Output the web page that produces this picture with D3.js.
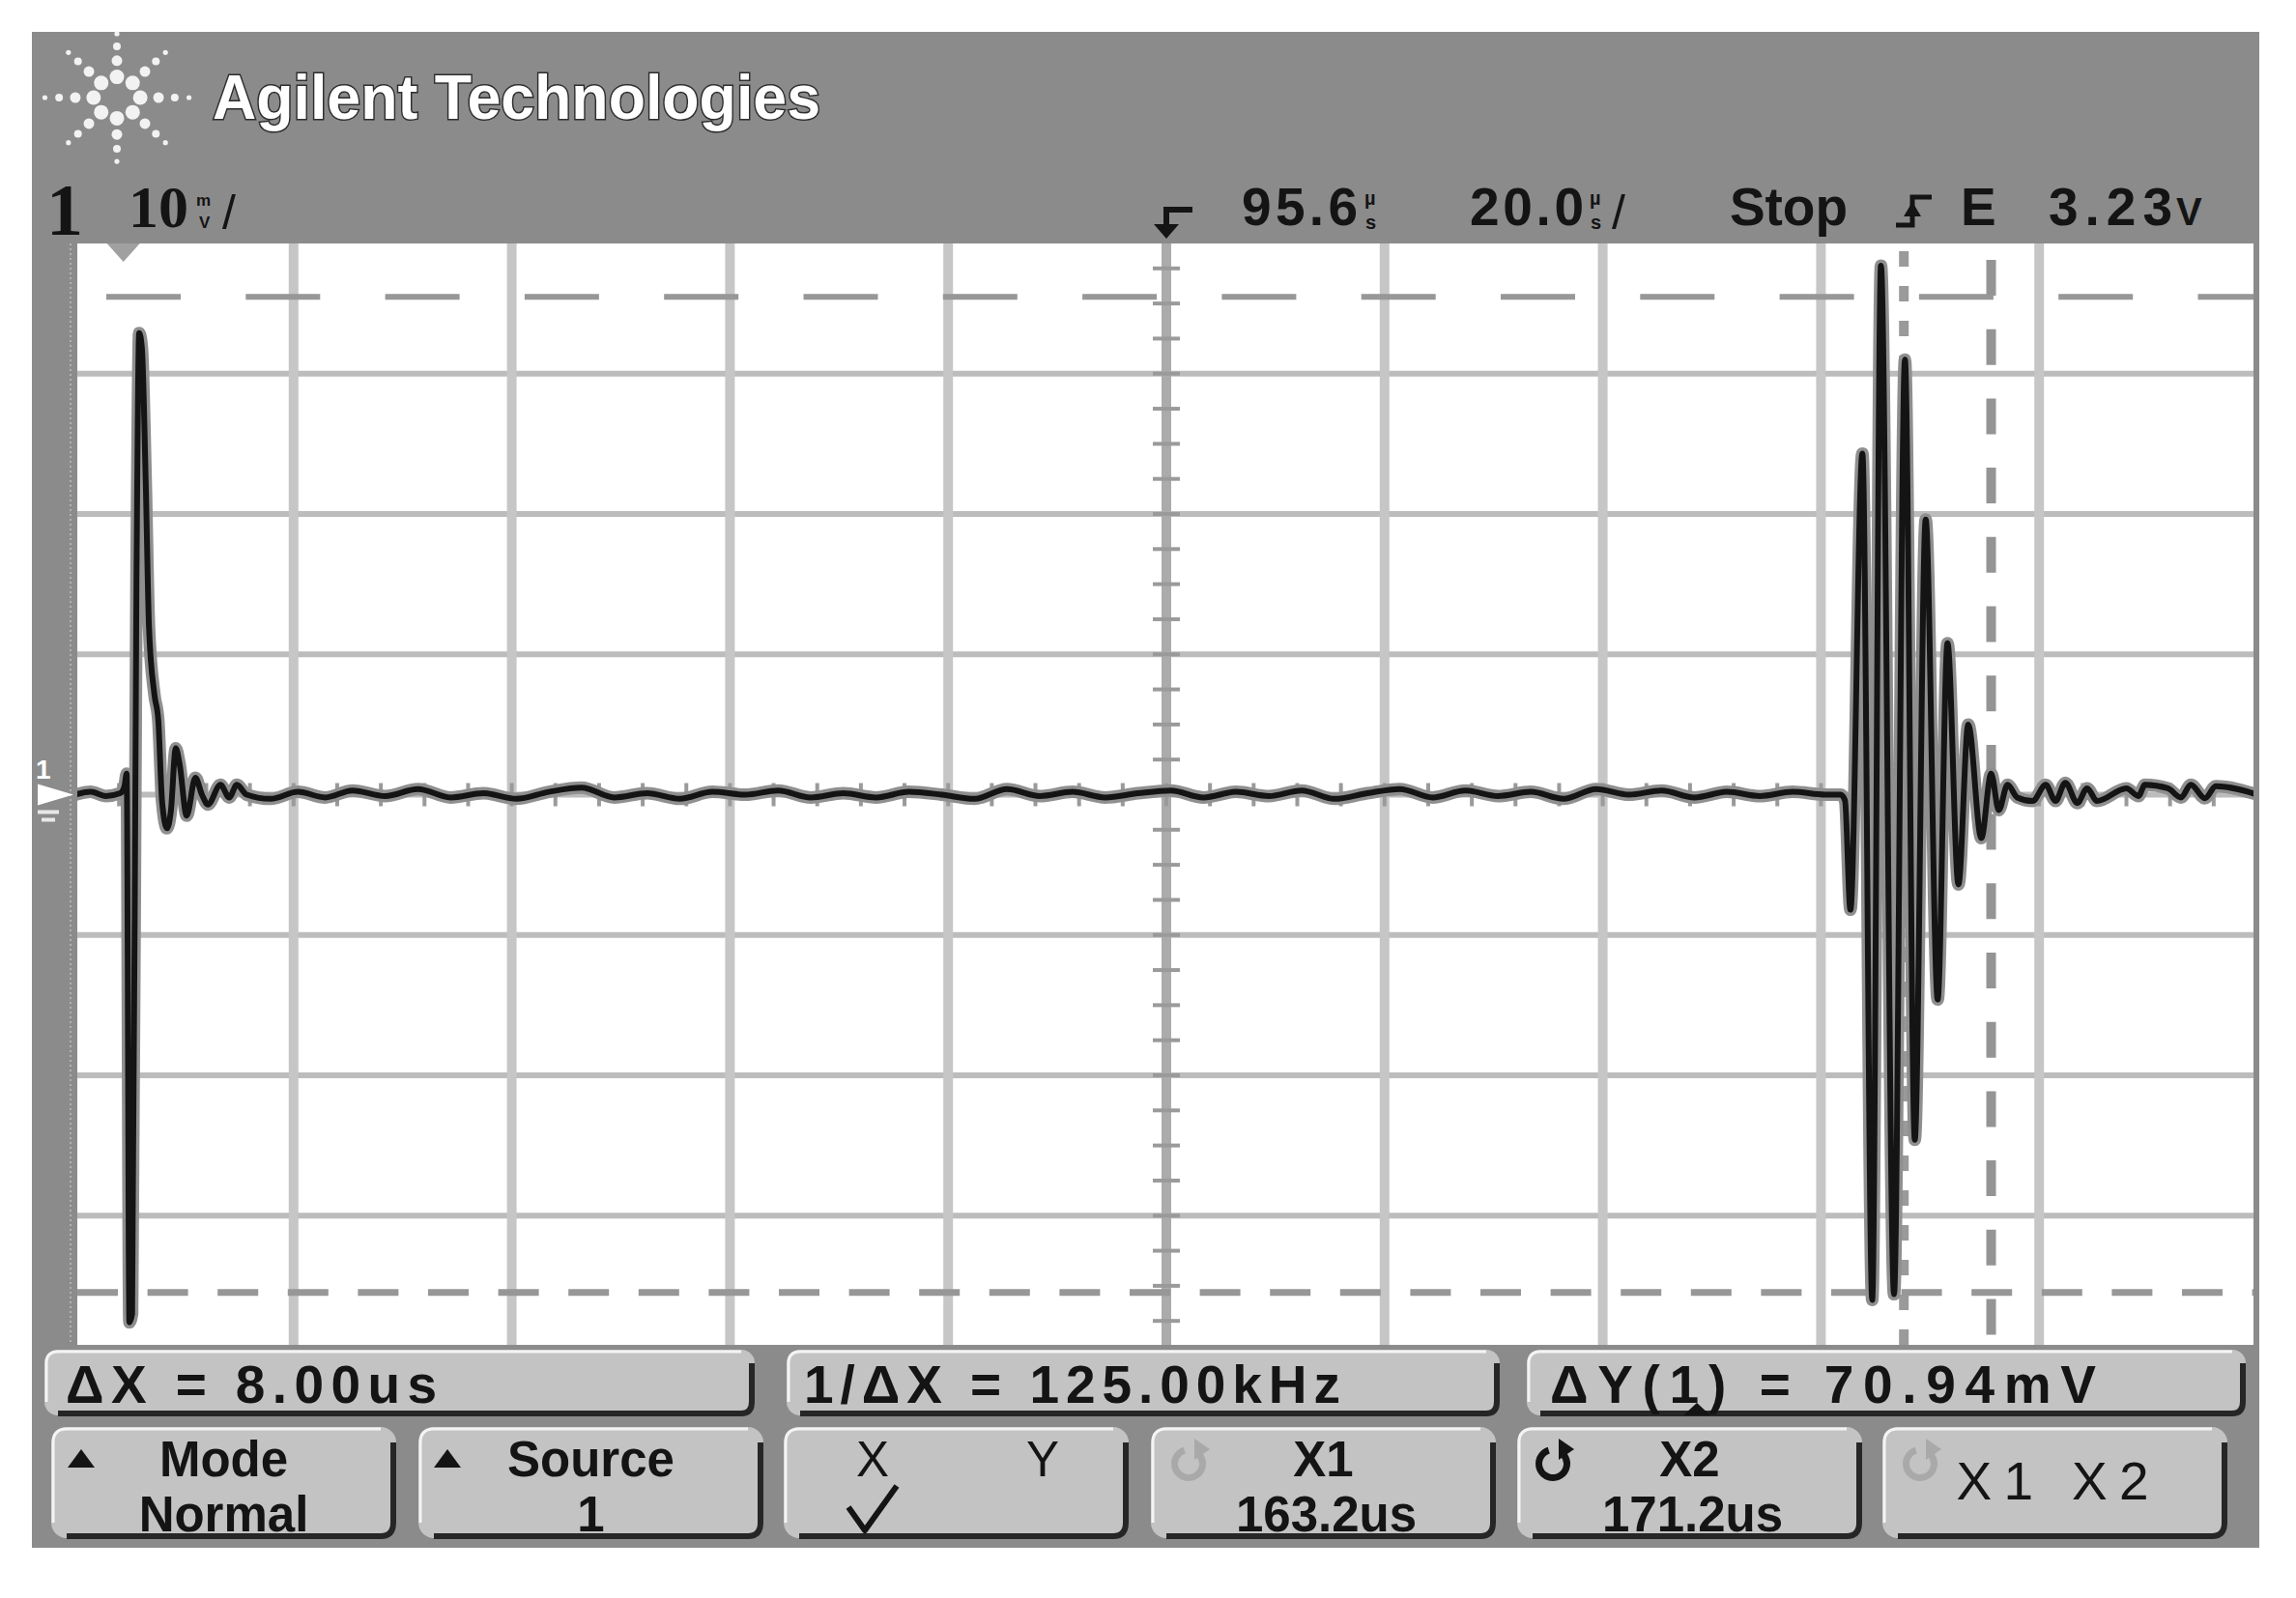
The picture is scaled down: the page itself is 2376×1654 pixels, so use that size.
<!DOCTYPE html>
<html>
<head>
<meta charset="utf-8">
<title>Agilent scope capture</title>
<script src="https://cdn.jsdelivr.net/npm/d3@7/dist/d3.min.js"></script>
<style>
html,body{margin:0;padding:0;background:#ffffff;overflow:hidden;}
svg{display:block;}
</style>
</head>
<body>
<svg id="scope" width="2376" height="1654"></svg>
<script>
// ---------- scope settings ----------
const timePerDivUs = 20.0;
const delayUs = 95.6;
const voltsPerDivMv = 10;

// ---------- channel 1 trace (time in us, value in mV) ----------
const traceTimeUs = [
  -4.4, -3.0, -1.6, -0.3, 0.1, 0.3, 0.55, 0.8, 1.2, 1.45, 1.7, 2.05, 2.35, 2.85, 3.2, 3.55, 4.0, 4.35,
  4.8, 5.15, 5.8, 6.6, 7.2, 7.75, 8.9, 9.7, 10.4, 11.3,
  13.5, 16, 18.5, 21, 24, 27, 30, 33, 36, 39, 42, 45, 48, 51, 54, 57, 60, 63, 66, 69, 72, 75, 78, 81,
  84, 87, 90, 93, 96, 99, 102, 105, 108, 111, 114, 117, 120, 123, 126, 129, 132, 135, 138, 141, 144,
  147, 150, 153, 156, 157.4, 157.8, 158.3, 159.4, 160.3, 161.1, 162.3, 163.3, 164.2, 165.2, 166.3,
  167.2, 168.2, 169.1, 170.3, 171.2, 171.9, 172.7, 173.6, 175.0, 176.2, 177.1, 178.0, 179.1, 180.0,
  180.9, 183.6, 184.7, 185.3, 187.4, 188.6, 189.5, 190.8, 191.8, 195.6
];
const traceMv = [
  0, 0.2, -0.1, 0.1, 0.6, 1.5, -37.6, -37.0, 15.3, 32.9, 31.8, 22.2, 11.9, 7.1, 5.3, -0.5, -2.4, -1.2,
  3.3, 2.2, -1.5, 1.2, 0, -0.7, 0.7, -0.2, 0.7, 0,
  -0.3, 0.2, -0.2, 0.3, -0.1, 0.4, -0.2, 0.1, -0.3, 0.2, 0.5, -0.2, 0.1, -0.3, 0.2, 0, 0.3, -0.2, 0.1, -0.2, 0.2, 0, -0.3, 0.4,
  -0.1, 0.2, -0.2, 0.1, 0.3, -0.2, 0.2, -0.1, 0.3, -0.3, 0.1, 0.4, -0.2, 0.3, -0.1, 0.2, -0.3, 0.4, 0, 0.3, -0.2,
  0.2, -0.1, 0.2, 0, 0, -0.4, -8.2, 24.3, -36.0, 37.7, -35.6, 31.0, -24.6, 19.6, -14.6,
  10.8, -6.4, 5.0, -3.1, 1.5, -1.1, 0.7, -0.2, -0.45, 0.7, -0.45, 0.85, -0.6, 0.45,
  -0.45, 0.45, -0.1, 0.7, 0.45, -0.2, 0.7, -0.25, 0.6, 0
];

// ---------- cursors ----------
const cursorXUs = [163.2, 171.2];
const cursorYMv = [35.47, -35.47];

// ---------- labels ----------
const brandLabel = "Agilent Technologies";
const statusLabels = ["ΔX = 8.00us", "1/ΔX = 125.00kHz", "ΔY(1) = 70.94mV"];
const softkeyTop = ["Mode", "Source", "", "X1", "X2", ""];
const softkeyBottom = ["Normal", "1", "", "163.2us", "171.2us", ""];
const headerDelay = "95.6";
const headerTimebase = "20.0";
const headerRun = "Stop";
const headerTrigLevel = "3.23";
const headerChannel = "1";
const headerScale = "10";

// ---------- layout ----------
const W = 2376, H = 1654;
const panel = {x0: 33, y0: 33, x1: 2338, y1: 1602};
const plot = {x0: 80, y0: 252, x1: 2332, y1: 1392};
const tStart = delayUs - 5 * timePerDivUs, tEnd = delayUs + 5 * timePerDivUs;

const x = d3.scaleLinear().domain([tStart, tEnd]).range([78, 2336]);
const y = d3.scaleLinear().domain([-4 * voltsPerDivMv, 4 * voltsPerDivMv]).range([1403.5, 241.5]);

const svg = d3.select("#scope");
const SANS = "'Liberation Sans', Arial, sans-serif";
const SERIF = "'Liberation Serif', 'Times New Roman', serif";
const INK = "#141414";

svg.append("rect").attr("width", W).attr("height", H).attr("fill", "#ffffff");
svg.append("rect").attr("x", panel.x0).attr("y", panel.y0)
  .attr("width", panel.x1 - panel.x0).attr("height", panel.y1 - panel.y0).attr("fill", "#8b8b8b");

function text(g, s, px, py, opt) {
  const t = g.append("text").attr("x", px).attr("y", py).text(s)
    .attr("font-family", opt.family || SANS)
    .attr("font-size", opt.size || 55)
    .attr("font-weight", opt.weight || "bold")
    .attr("fill", opt.fill || INK)
    .attr("text-anchor", opt.anchor || "start");
  if (opt.len) t.attr("textLength", opt.len).attr("lengthAdjust", opt.adjust || "spacing");
  return t;
}

// ---------- brand row ----------
const head = svg.append("g");
const logoC = [121, 101];
const rayDist = [23, 41, 57, 71];
const rayRad = [7.5, 5.5, 4, 2.6];
for (let k = 0; k < 8; k++) {
  const a = k * Math.PI / 4;
  const sx = (k % 4 === 0) ? 1.05 : 1.0;
  rayDist.forEach((d, i) => {
    head.append("circle")
      .attr("cx", logoC[0] + Math.cos(a) * d * sx)
      .attr("cy", logoC[1] + Math.sin(a) * d * 0.93)
      .attr("r", rayRad[i]).attr("fill", "#f2f2f2");
  });
}
text(head, brandLabel, 220, 123, {size: 64, fill: "#ffffff", len: 629, adjust: "spacingAndGlyphs"})
  .attr("stroke", "#2e2e2e").attr("stroke-width", 3).attr("paint-order", "stroke");

// ---------- settings row ----------
text(head, headerChannel, 48, 243, {family: SERIF, size: 76});
text(head, headerScale, 133, 235, {family: SERIF, size: 62});
text(head, "m", 203, 213, {size: 17});
text(head, "V", 206, 236, {size: 17});
text(head, "/", 230, 237, {size: 50, weight: "normal"});

// trigger reference marker (top centre)
head.append("path").attr("d", "M1234,217 H1207 V236").attr("fill", "none")
  .attr("stroke", INK).attr("stroke-width", 6);
head.append("path").attr("d", "M1194,232 L1220,232 L1207,247 Z").attr("fill", INK);

text(head, headerDelay, 1285, 233, {size: 55, len: 120});
text(head, "µ", 1412, 212, {size: 20});
text(head, "s", 1413, 237, {size: 20});
text(head, headerTimebase, 1521, 233, {size: 55, len: 118});
text(head, "µ", 1645, 212, {size: 20});
text(head, "s", 1646, 237, {size: 20});
text(head, "/", 1668, 237, {size: 50, weight: "normal"});
text(head, headerRun, 1790, 233, {size: 55, len: 122});
// rising edge trigger symbol
head.append("path").attr("d", "M1962,233 H1979 V204 H1999").attr("fill", "none")
  .attr("stroke", INK).attr("stroke-width", 5);
head.append("path").attr("d", "M1970,224 L1988,224 L1979,209 Z").attr("fill", INK);
text(head, "E", 2029, 233, {size: 55});
text(head, headerTrigLevel, 2120, 233, {size: 55, len: 128});
text(head, "V", 2252, 233, {size: 40});

// ---------- graticule ----------
const grid = svg.append("g");
grid.append("line").attr("x1", 73).attr("x2", 73).attr("y1", plot.y0).attr("y2", plot.y1)
  .attr("stroke", "#b0b0b0").attr("stroke-width", 2).attr("stroke-dasharray", "2,3");
grid.append("rect").attr("x", plot.x0).attr("y", plot.y0)
  .attr("width", plot.x1 - plot.x0).attr("height", plot.y1 - plot.y0).attr("fill", "#ffffff");

const clip = svg.append("defs").append("clipPath").attr("id", "plotclip");
clip.append("rect").attr("x", plot.x0).attr("y", plot.y0)
  .attr("width", plot.x1 - plot.x0).attr("height", plot.y1 - plot.y0);

const gridG = svg.append("g").attr("clip-path", "url(#plotclip)");
const vLines = d3.range(1, 10).map(i => tStart + i * timePerDivUs);
const hLines = d3.range(-3, 4).map(i => i * voltsPerDivMv);

gridG.selectAll(".hl").data(hLines).join("line")
  .attr("x1", plot.x0).attr("x2", plot.x1)
  .attr("y1", d => y(d)).attr("y2", d => y(d))
  .attr("stroke", "#bcbcbc").attr("stroke-width", 6);
gridG.selectAll(".vl").data(vLines).join("line")
  .attr("y1", plot.y0).attr("y2", plot.y1)
  .attr("x1", d => x(d)).attr("x2", d => x(d))
  .attr("stroke", d => Math.abs(d - delayUs) < 1e-6 ? "#ababab" : "#c6c6c6")
  .attr("stroke-width", 10);

// minor ticks on centre axes
const vMinor = d3.range(-15, 16).map(i => i * voltsPerDivMv / 4).filter(v => Math.abs(v) > 1e-6 && Math.abs(v) < 39);
gridG.selectAll(".vm").data(vMinor).join("line")
  .attr("x1", x(delayUs) - 14).attr("x2", x(delayUs) + 14)
  .attr("y1", d => y(d)).attr("y2", d => y(d))
  .attr("stroke", "#9a9a9a").attr("stroke-width", 4);
const tMinor = d3.range(1, 50).map(i => tStart + i * timePerDivUs / 5);
gridG.selectAll(".tm").data(tMinor).join("line")
  .attr("y1", y(0) - 12).attr("y2", y(0) + 12)
  .attr("x1", d => x(d)).attr("x2", d => x(d))
  .attr("stroke", "#9a9a9a").attr("stroke-width", 4);

// trigger point marker (t = 0)
gridG.append("path")
  .attr("d", `M${x(0) - 17},${plot.y0} L${x(0) + 17},${plot.y0} L${x(0)},${plot.y0 + 19} Z`)
  .attr("fill", "#a0a0a0");

// ---------- cursors ----------
const curG = svg.append("g").attr("clip-path", "url(#plotclip)");
curG.append("line").attr("x1", 110).attr("x2", plot.x1)
  .attr("y1", y(cursorYMv[0])).attr("y2", y(cursorYMv[0]))
  .attr("stroke", "#979797").attr("stroke-width", 6).attr("stroke-dasharray", "77,67.3");
curG.append("line").attr("x1", 80).attr("x2", plot.x1)
  .attr("y1", y(cursorYMv[1])).attr("y2", y(cursorYMv[1]))
  .attr("stroke", "#979797").attr("stroke-width", 7).attr("stroke-dasharray", "42,30.6");
curG.append("line").attr("x1", x(cursorXUs[0])).attr("x2", x(cursorXUs[0]))
  .attr("y1", 224).attr("y2", plot.y1)
  .attr("stroke", "#9a9a9a").attr("stroke-width", 10).attr("stroke-dasharray", "16,20");
curG.append("line").attr("x1", x(cursorXUs[1])).attr("x2", x(cursorXUs[1]))
  .attr("y1", 197.3).attr("y2", plot.y1)
  .attr("stroke", "#949494").attr("stroke-width", 10).attr("stroke-dasharray", "37,34.7");

// ---------- trace ----------
const pts = traceTimeUs.map((t, i) => ({t: t, v: traceMv[i]}));
const line = d3.line().x(d => x(d.t)).y(d => y(d.v)).curve(d3.curveMonotoneX);
const traceG = svg.append("g").attr("clip-path", "url(#plotclip)");
traceG.append("path").datum(pts).attr("d", line)
  .attr("fill", "none").attr("stroke", "#8f8f8f").attr("stroke-width", 13)
  .attr("stroke-linejoin", "round").attr("stroke-linecap", "round");
traceG.append("path").datum(pts).attr("d", line)
  .attr("fill", "none").attr("stroke", INK).attr("stroke-width", 6)
  .attr("stroke-linejoin", "round").attr("stroke-linecap", "round");

// ground reference marker for channel 1
text(svg, "1", 37, 806, {size: 28, fill: "#ffffff"});
svg.append("path").attr("d", `M39,${y(0) - 11} L39,${y(0) + 11} L76,${y(0)} Z`).attr("fill", "#ffffff");
svg.append("rect").attr("x", 39).attr("y", y(0) + 16).attr("width", 22).attr("height", 4).attr("fill", "#e8e8e8");
svg.append("rect").attr("x", 43).attr("y", y(0) + 24).attr("width", 14).attr("height", 4).attr("fill", "#e8e8e8");

// ---------- status line ----------
function bevelBox(g, x0, y0, x1, y1, r) {
  g.append("rect").attr("x", x0).attr("y", y0).attr("width", x1 - x0).attr("height", y1 - y0)
    .attr("rx", r).attr("ry", r).attr("fill", "#c3c3c3");
  g.append("path")
    .attr("d", `M${x0 + 2},${y1 - r} V${y0 + r} Q${x0 + 2},${y0 + 2} ${x0 + r},${y0 + 2} H${x1 - r}`)
    .attr("fill", "none").attr("stroke", "#f4f4f4").attr("stroke-width", 3);
  g.append("path")
    .attr("d", `M${x0 + r},${y1 - 2} H${x1 - r} Q${x1 - 3},${y1 - 2} ${x1 - 3},${y1 - r} V${y0 + r}`)
    .attr("fill", "none").attr("stroke", "#262626").attr("stroke-width", 6);
}
const statusG = svg.append("g");
const statusBoxes = [[46, 781], [814, 1552], [1580, 2324]];
const statusText = [[68, 384], [832, 555], [1604, 565]];
statusBoxes.forEach((b, i) => {
  bevelBox(statusG, b[0], 1397, b[1], 1465, 14);
  text(statusG, statusLabels[i], statusText[i][0], 1452, {size: 55, weight: "bold", len: statusText[i][1]});
});
statusG.append("path").attr("d", "M1742,1465 L1770,1465 L1756,1452 Z").attr("fill", INK);

// ---------- softkeys ----------
const skG = svg.append("g");
const skX = [53, 433, 811, 1191, 1570, 1948];
const skW = 357;
skX.forEach((x0, i) => {
  bevelBox(skG, x0, 1477, x0 + skW, 1592, 16);
  const cx = x0 + skW / 2;
  if (softkeyTop[i]) text(skG, softkeyTop[i], cx, 1528, {size: 51, anchor: "middle"});
  if (softkeyBottom[i]) text(skG, softkeyBottom[i], cx + (i >= 3 ? 3 : 0), 1585, {size: 51, anchor: "middle"});
});
// up-triangles for Mode and Source
[[84, 1500], [463, 1500]].forEach(p => {
  skG.append("path").attr("d", `M${p[0] - 14},${p[1] + 19} L${p[0] + 14},${p[1] + 19} L${p[0]},${p[1]} Z`).attr("fill", INK);
});
// X / Y / check
text(skG, "X", 903, 1528, {size: 51, anchor: "middle", weight: "normal"});
text(skG, "Y", 1079, 1528, {size: 51, anchor: "middle", weight: "normal"});
skG.append("path").attr("d", "M878,1560 L895,1584 L928,1538").attr("fill", "none")
  .attr("stroke", INK).attr("stroke-width", 6).attr("stroke-linejoin", "round");
// knob icons
function knob(cx, cy, col) {
  const arc = d3.arc()({innerRadius: 11, outerRadius: 18, startAngle: 0.9, endAngle: 2 * Math.PI - 0.3});
  skG.append("path").attr("d", arc).attr("transform", `translate(${cx},${cy})`).attr("fill", col);
  skG.append("path").attr("d", `M${cx + 6},${cy - 26} L${cx + 6},${cy - 4} L${cx + 22},${cy - 15} Z`)
    .attr("fill", col);
}
knob(1230, 1515, "#a9a9a9");
knob(1607, 1515, INK);
knob(1987, 1515, "#a9a9a9");
text(skG, "X1 X2", 2124, 1552, {size: 55, anchor: "middle", weight: "normal", len: 199});
</script>
</body>
</html>
